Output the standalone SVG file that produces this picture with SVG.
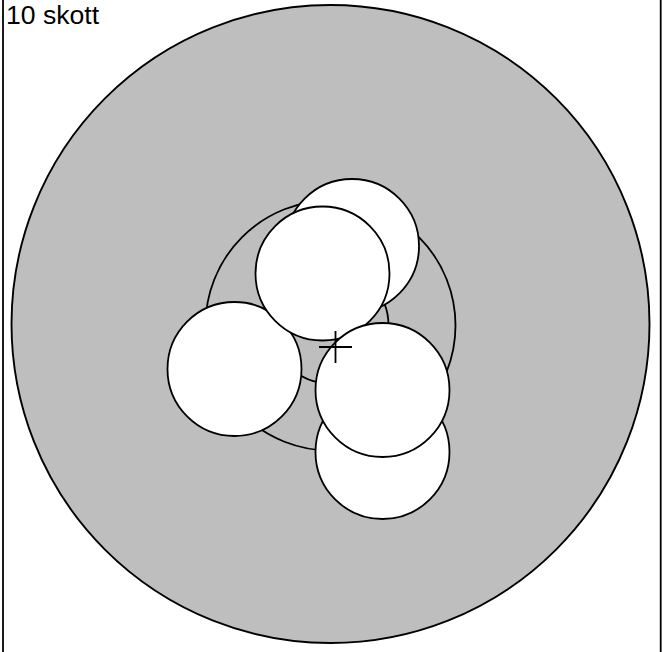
<svg xmlns="http://www.w3.org/2000/svg" width="663" height="652" viewBox="0 0 663 652">
<style>
.ln{stroke:#000;stroke-width:1.8;fill:none}
.shot{fill:#fff;stroke:#000;stroke-width:1.8}
.lbl{font-family:"Liberation Sans",Arial,sans-serif;font-size:26.6px;fill:#000}
</style>
<rect width="663" height="652" fill="#fff"/>
<g id="frame">
<line class="ln" x1="3" y1="0" x2="3" y2="652"/>
<line class="ln" x1="660.7" y1="0" x2="660.7" y2="652"/>
</g>
<text id="title" class="lbl" x="6" y="23.5">10 skott</text>
<g id="target">
<circle cx="330.5" cy="324" r="319" fill="#bebebe" stroke="#000" stroke-width="1.9"/>
<circle class="ln" cx="330.5" cy="325.5" r="125"/>
<circle class="ln" cx="330.5" cy="325.5" r="58"/>
</g>
<g id="shots">
<circle id="shot1" class="shot" cx="352" cy="246" r="67"/>
<circle id="shot2" class="shot" cx="234.5" cy="369" r="67"/>
<circle id="shot3" class="shot" cx="322.5" cy="273.5" r="67"/>
<circle id="shot4" class="shot" cx="382.5" cy="452" r="67"/>
<circle id="shot5" class="shot" cx="382.5" cy="390" r="67"/>
</g>
<g id="mpi">
<line class="ln" x1="319" y1="347" x2="352" y2="347"/>
<line class="ln" x1="335.5" y1="331" x2="335.5" y2="363"/>
</g>
</svg>
